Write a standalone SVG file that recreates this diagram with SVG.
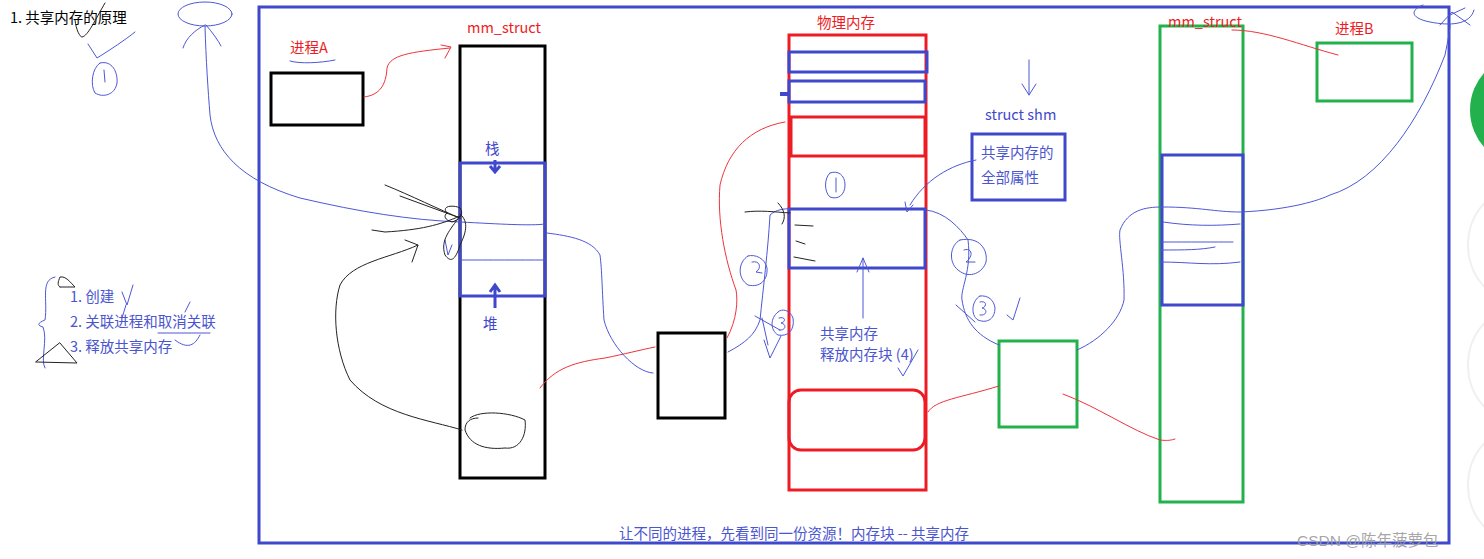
<svg xmlns="http://www.w3.org/2000/svg" width="1484" height="559" viewBox="0 0 1484 559">
<defs>
<style>
.t{font-family:"Noto Sans CJK SC","Liberation Sans",sans-serif;font-size:14.5px}
.red{fill:#ed1c24}.blue{fill:#3f48cc}.lb{fill:#4a55d0}
.bx{fill:none;stroke-width:3}
.k{stroke:#000}.b{stroke:#3f48cc}.r{stroke:#ed1c24}.g{stroke:#22b14c}
.s{fill:none;stroke-width:1;stroke-linecap:round;stroke-linejoin:round}
.sb{stroke:#4d57d6}.sr{stroke:#f0323c}.sk{stroke:#222}
</style>
</defs>
<rect width="1484" height="559" fill="#fff"/>
<g id="side">
<circle cx="1530" cy="245" r="62" fill="#fff" stroke="#f0f0f0" stroke-width="2"/>
<circle cx="1530" cy="365" r="62" fill="#fff" stroke="#f0f0f0" stroke-width="2"/>
<circle cx="1530" cy="485" r="62" fill="#fff" stroke="#f0f0f0" stroke-width="2"/>
<circle cx="1526" cy="110" r="56" fill="#22b14c"/>
</g>
<text class="t" x="10" y="23" fill="#000">1. 共享内存的原理</text>
<g id="frame"><rect class="bx b" x="259" y="7" width="1190" height="536"/></g>
<g id="procA">
<rect class="bx k" x="271" y="73" width="92" height="52"/>
<text class="t red" x="290" y="53">进程A</text>
</g>
<g id="mmA">
<rect class="bx k" x="460" y="46" width="85" height="432"/>
<text class="t red" x="467" y="33">mm_struct</text>
<rect class="bx b" x="460" y="163" width="85" height="133"/>
<text class="t blue" x="485" y="154">栈</text>
<text class="t blue" x="483" y="329">堆</text>
<path d="M495,160 V170 M490,166 L495,172 L500,166" fill="none" stroke="#3f48cc" stroke-width="3"/>
<path d="M495,308 V286 M490,292 L495,285 L500,292" fill="none" stroke="#3f48cc" stroke-width="3"/>
</g>
<g id="phys">
<rect class="bx r" x="789" y="35" width="137" height="455"/>
<text class="t red" x="817" y="28">物理内存</text>
<rect class="bx b" x="789" y="52" width="138" height="20"/>
<rect class="bx b" x="789" y="81" width="136" height="21"/>
<path d="M780,94 H790" stroke="#3f48cc" stroke-width="4"/>
<rect class="bx r" x="791" y="117" width="134" height="39"/>
<rect class="bx b" x="789" y="209" width="136" height="59"/>
<rect class="bx r" x="789" y="390" width="136" height="60" rx="12"/>
<text class="t lb" x="820" y="339">共享内存</text>
<text class="t lb" x="820" y="360">释放内存块 (4)</text>
</g>
<g id="procBox"><rect class="bx k" x="658" y="333" width="67" height="85"/></g>
<g id="shm">
<text class="t blue" x="985" y="120">struct shm</text>
<rect class="bx b" x="972" y="134" width="93" height="66"/>
<text class="t lb" x="981" y="158">共享内存的</text>
<text class="t lb" x="981" y="183">全部属性</text>
</g>
<g id="greenBox"><rect class="bx g" x="999" y="341" width="78" height="86"/></g>
<g id="mmB">
<rect class="bx g" x="1160" y="26" width="83" height="476"/>
<rect class="bx b" x="1162" y="155" width="81" height="150"/>
<text class="t red" x="1168" y="27">mm_struct</text>
</g>
<g id="procB">
<rect class="bx g" x="1317" y="43" width="95" height="58"/>
<text class="t red" x="1335" y="34">进程B</text>
</g>
<g id="list">
<text class="t lb" x="70" y="302">1. 创建</text>
<text class="t lb" x="70" y="327">2. 关联进程和取消关联</text>
<text class="t lb" x="70" y="352">3. 释放共享内存</text>
</g>
<text class="t lb" x="619" y="539">让不同的进程，先看到同一份资源！内存块 -- 共享内存</text>
<text x="1297" y="546" font-family="Liberation Sans,Noto Sans CJK SC,sans-serif" font-size="15.5" fill="#9a9a9a" fill-opacity="0.9">CSDN @陈年菠萝包</text>
<g id="connectors">
<path class="s sr" d="M364,97 C380,95 386,85 387,68 C390,55 410,52 450,48 M441,45 L451,47 L445,58"/>
<path class="s sr" d="M540,388 C555,368 575,362 605,358 C625,354 640,350 655,347"/>
<path class="s sr" d="M727,338 C737,320 738,300 736,290 C725,260 717,220 720,185 C728,150 750,128 785,122"/>
<path class="s sr" d="M928,412 C935,400 960,398 999,386"/>
<path class="s sr" d="M1063,394 C1100,408 1130,430 1160,440 C1168,441 1172,440 1175,439"/>
<path class="s sr" d="M1232,30 C1265,30 1300,45 1338,55"/>
<path class="s sb" d="M205,26 C206,60 208,90 210,115 C214,150 240,180 300,198 C360,212 410,220 460,222 C500,224 530,226 545,224"/>
<ellipse class="s sb" cx="205" cy="14" rx="27" ry="12"/>
<path class="s sb" d="M205,25 C195,30 186,38 183,48 M206,25 C212,32 218,40 221,46"/>
<path class="s sb" d="M88,44 L97,58 C110,50 125,40 135,32"/>
<path class="s sb" d="M100,63 C92,68 90,85 95,93 C103,98 115,95 117,83 C118,72 112,60 100,63 M104,70 L105,82"/>
<path class="s sb" d="M830,173 C824,178 824,192 830,197 C838,200 845,195 845,185 C845,175 838,170 830,173 M836,178 L836,192"/>
<path class="s sb" d="M290,61 C300,64 320,63 335,60"/>
<path class="s sb" d="M460,260 C490,260 520,260 545,260"/>
<path class="s sb" d="M547,233 C570,236 592,240 600,255 C602,270 602,290 604,320 C610,345 635,372 653,373"/>
<path class="s sb" d="M728,352 C745,343 755,335 760,320 C763,290 768,250 770,215 C775,210 785,208 790,209"/>
<path class="s sb" d="M748,256 C738,262 737,278 748,285 C760,288 768,280 767,268 C765,258 755,254 748,256 M752,262 C760,260 762,268 756,272 L762,273"/>
<path class="s sb" d="M778,312 C770,318 770,330 778,335 C788,337 795,330 793,318 C790,310 782,308 778,312 M779,318 C786,316 786,322 781,323 C787,324 786,331 779,330 M762,318 L768,345 M755,316 L780,330"/>
<path class="s sb" d="M764,340 L770,358 L781,336"/>
<path class="s sb" d="M976,160 C950,165 925,180 910,205 M905,202 L907,212 L913,205"/>
<path class="s sb" d="M1029,60 V95 M1022,84 L1029,95 L1036,84"/>
<path class="s sb" d="M863,318 V258 M857,272 L863,258 L869,272"/>
<path class="s sb" d="M898,368 L903,376 L918,350"/>
<path class="s sb" d="M926,210 C945,212 960,228 968,240 C972,270 960,290 962,300 C965,320 975,335 999,345"/>
<path class="s sb" d="M960,240 C950,245 948,262 958,270 C970,280 983,272 986,262 C988,250 980,236 960,240 M964,250 C972,247 974,256 966,262 L975,262"/>
<path class="s sb" d="M980,296 C972,300 970,315 978,320 C988,324 995,318 995,308 C994,300 988,295 980,296 M980,302 C987,300 987,307 982,308 C988,309 987,316 980,315 M956,305 L975,322"/>
<path class="s sb" d="M1007,315 L1013,320 L1020,298"/>
<path class="s sb" d="M1077,350 C1100,340 1120,320 1124,300 C1125,270 1118,240 1120,230 C1128,210 1145,207 1162,207 C1200,207 1215,212 1240,212 C1290,210 1320,200 1330,195 C1380,180 1420,120 1445,55 C1448,40 1450,30 1450,25"/>
<path class="s sb" d="M1423,5 C1410,10 1410,18 1430,22 C1450,26 1470,25 1474,10 M1440,25 L1452,12 L1470,25 M1450,15 L1465,8"/>
<path class="s sb" d="M1163,222 C1190,226 1215,226 1240,224"/>
<path class="s sb" d="M1160,242 C1190,242 1215,242 1233,242"/>
<path class="s sb" d="M1160,250 C1185,250 1200,250 1215,247"/>
<path class="s sb" d="M1160,262 C1190,262 1210,266 1240,262"/>
<path class="s sb" d="M55,277 C40,280 48,300 45,320 C40,322 35,325 43,327 C48,340 40,360 45,368"/>
<path class="s sb" d="M122,292 L127,305 L133,285"/>
<path class="s sb" d="M122,318 L126,305 M185,312 L190,302"/>
<path class="s sb" d="M158,333 H210 M175,340 C188,350 195,345 200,335"/>
<path class="s sb" d="M445,240 L448,255 L452,245"/>
<path class="s sk" d="M75,20 C76,30 80,37 82,37 C88,36 95,20 105,3"/>
<path class="s sk" d="M60,287 L75,287 C70,282 66,276 60,277 C58,282 57,285 60,287"/>
<path class="s sk" d="M36,362 L77,363 L60,343 Z"/>
<path class="s sk" d="M385,185 C410,195 440,210 460,218 M400,196 L460,218 M372,230 L385,232 C420,230 440,225 460,216"/>
<path class="s sk" d="M447,213 C440,205 455,205 460,208 C465,215 458,220 452,222 C445,220 443,216 447,213"/>
<path class="s sk" d="M460,216 C450,230 440,240 445,255 C450,262 455,262 460,245 C465,235 470,222 460,214"/>
<path class="s sk" d="M462,430 C430,420 380,415 350,380 C335,350 332,310 340,285 C352,262 390,258 418,245 L412,262 M405,240 L418,245"/>
<path class="s sk" d="M470,418 C480,410 510,412 525,420 C527,435 520,450 505,448 C485,450 470,445 465,430 C465,422 470,418 478,418"/>
<path class="s sk" d="M745,212 C760,210 775,212 790,213 M778,203 C785,210 786,218 782,224"/>
<path class="s sk" d="M795,225 L813,226 M796,241 L805,244 M794,257 L815,261"/>
</g>
</svg>
